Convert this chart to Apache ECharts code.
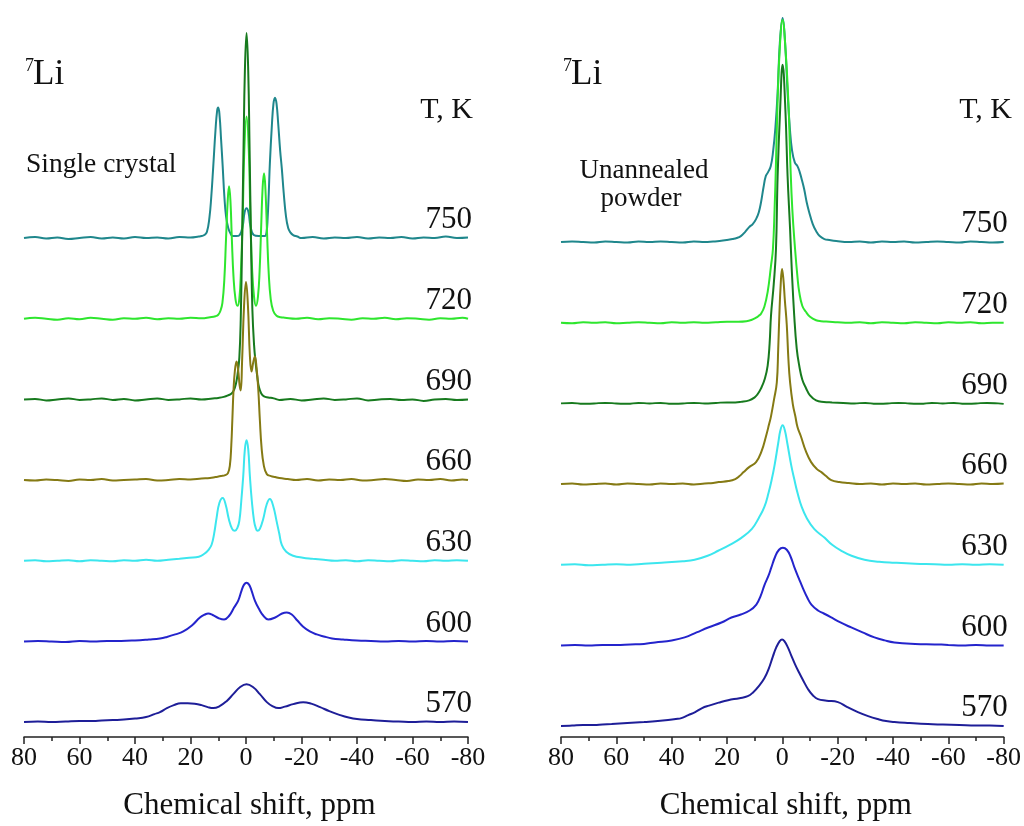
<!DOCTYPE html>
<html>
<head>
<meta charset="utf-8">
<title>7Li NMR spectra</title>
<script src="https://cdn.jsdelivr.net/npm/echarts@6/dist/echarts.min.js"></script>
<style>
  html, body { margin: 0; padding: 0; background: #fff; }
  #chart { width: 1024px; height: 826px; }
</style>
</head>
<body>
<div id="chart"></div>
<script>
// ---- data: 7Li spectra, [chemical shift (ppm), intensity above the trace baseline] ----
const temperatures = ['570', '600', '630', '660', '690', '720', '750'];
const shiftTicks = [80, 60, 40, 20, 0, -20, -40, -60, -80];

// Single crystal
const sc570 = [[80,0],[75,0.5],[70,0],[65,0.5],[60,1],[55,1],[52,1.5],[48,2],[44,2.5],[40,3.5],[36,5],[33,8],[31,10],[28.5,14],[26,17],[23.5,19],[21,19],[18.5,18.5],[16,17],[13.8,15],[11.8,14],[9.5,16],[7,21],[4.6,28],[2.2,35],[-0.2,38],[-2.6,35],[-5,28],[-7.5,20],[-9.5,16],[-11.6,14],[-14,15.5],[-17,18],[-20.6,20],[-23.5,18.5],[-26.7,15],[-30,11],[-33.9,7],[-37,4.5],[-40,3],[-45,2],[-50,1],[-55,0.5],[-60,0],[-65,0.5],[-70,0],[-75,0.5],[-80,0]];
const sc600 = [[80,0],[75,0.5],[70,0],[65,-0.5],[60,0.5],[55,0],[50,0.5],[45,0.5],[40,1],[35,2],[31,3],[28.5,4.5],[25.5,7],[22.6,10],[19.5,16],[16.6,24],[14.8,27],[13.6,28],[12,26.5],[10,23.5],[7.9,22],[6,26],[4.3,34],[2.8,41],[1.6,51],[0.7,57],[-0.2,59],[-1.1,57],[-2,51],[-3.2,41],[-4.6,33],[-6.2,26],[-8,22],[-10.5,24],[-13,28],[-14.7,29],[-16.5,27],[-18.5,21],[-20.5,15],[-23,10],[-25.5,7],[-28,5],[-31,3],[-35,2],[-40,1],[-45,0.5],[-50,0],[-55,0.5],[-60,0],[-65,0.5],[-70,0],[-75,0.5],[-80,0]];
const sc630 = [[80,0],[76,0.5],[72,-0.5],[68,0],[64,0.5],[60,-0.5],[56,0.5],[52,0],[48,-0.5],[44,0.5],[40,0],[36,1],[32,0],[28,1],[24,2],[20.5,3],[17,4],[15,7],[13.5,11],[12.4,16],[11.5,27],[10.6,43],[9.6,58],[8.4,63],[7.3,56],[6.2,42],[5,32],[4,30],[3.1,33],[2.4,40],[1.7,60],[1,85],[0.4,112],[-0.2,121],[-0.8,112],[-1.4,85],[-2.1,60],[-2.9,40],[-3.5,33],[-4.1,30],[-5,32],[-6.2,42],[-7.5,57],[-8.6,62],[-9.8,55],[-11,40],[-12,27],[-12.9,16],[-14.5,9],[-17,5],[-20.5,3],[-24,2],[-28,1],[-32,0],[-36,0.5],[-40,-0.5],[-44,0.5],[-48,0],[-52,-0.5],[-56,0.5],[-60,0],[-64,-0.5],[-68,0.5],[-72,0],[-76,0.5],[-80,0]];
const sc660 = [[80,0],[76,-0.5],[72,0.5],[68,0],[64,-1],[60,0.5],[56,0],[52,1],[48,-0.5],[44,0],[40,0.5],[36,1],[32,-0.5],[28,0],[24,1],[20,0.5],[16,1.5],[13,2],[11,3],[9,4],[7.5,5],[6.5,7],[5.8,15],[5.3,35],[4.9,62],[4.5,90],[4,110],[3.4,119],[2.8,110],[2.3,95],[1.9,90],[1.4,120],[0.7,175],[0,199],[-0.7,175],[-1.4,125],[-2,109],[-2.6,118],[-3.2,124],[-3.8,113],[-4.4,92],[-5,60],[-5.6,33],[-6.4,15],[-7.5,6],[-9,4],[-10.5,3],[-12,2],[-15,1],[-18,0],[-22,1],[-26,-0.5],[-30,0.5],[-34,0],[-38,1],[-42,-0.5],[-46,0],[-50,1],[-54,0],[-58,-1],[-62,0.5],[-66,0],[-70,1],[-74,-0.5],[-78,0.5],[-80,0]];
const sc690 = [[80,0],[76,0.5],[72,-1],[68,0],[64,1],[60,-0.5],[56,0],[52,1],[48,-0.5],[44,0.5],[40,-1],[36,0],[32,1],[28,-0.5],[24,0],[20,1],[16,0],[12,1],[10,1.5],[8,2.5],[6.5,4],[5.2,6],[4.4,9],[3.6,16],[3,26],[2.4,42],[1.9,80],[1.4,160],[0.9,250],[0.4,330],[-0.2,368],[-0.8,330],[-1.3,250],[-1.8,160],[-2.3,90],[-2.9,55],[-3.5,36],[-4.1,22],[-4.7,12],[-5.5,6],[-6.5,3],[-8,2],[-10,1],[-12,-0.5],[-16,0.5],[-20,-1],[-24,0],[-28,1],[-32,-0.5],[-36,0],[-40,1],[-44,-1],[-48,0],[-52,0.5],[-56,-0.5],[-60,0],[-64,-1.5],[-68,0],[-72,0.5],[-76,-0.5],[-80,0]];
const sc720 = [[80,0],[76,1],[72,0],[68,-1],[64,0.5],[60,-0.5],[56,1],[52,0],[48,-1],[44,0.5],[40,0],[36,1],[32,-0.5],[28,0.5],[24,0],[20,1],[16,0.5],[13,1.5],[11,2.5],[10,4],[9.2,8],[8.5,16],[7.8,40],[7.2,80],[6.6,118],[6.1,133],[5.6,118],[5.1,80],[4.5,42],[3.8,20],[3.1,13],[2.4,20],[1.8,50],[1.2,100],[0.6,170],[-0.2,203],[-1,170],[-1.6,100],[-2.2,50],[-2.9,22],[-3.6,13],[-4.3,22],[-4.9,48],[-5.5,95],[-6,132],[-6.5,146],[-7,130],[-7.6,85],[-8.2,45],[-8.9,20],[-9.8,8],[-11,3],[-12.5,1.5],[-14,1],[-18,0],[-22,1],[-26,-0.5],[-30,0.5],[-34,0],[-38,-1],[-42,0.5],[-46,0],[-50,1],[-54,-0.5],[-58,0.5],[-62,0],[-66,-1],[-70,0.5],[-74,0],[-78,1],[-80,0]];
const sc750 = [[80,0],[76,1],[72,-0.5],[68,0.5],[64,-1],[60,0],[56,1],[52,-0.5],[48,0.5],[44,-0.5],[40,1],[36,0],[32,0.5],[28,-0.5],[24,1],[20,0.5],[17,1.5],[16,2],[15,3],[14.1,6],[13.2,20],[12.5,42],[11.8,72],[11,108],[10.4,128],[10,131],[9.5,122],[9,100],[8.4,72],[7.8,42],[7.2,22],[6.4,10],[5.5,4],[4.7,2],[3.5,2],[2.3,3],[1.2,12],[0.5,26],[-0.2,30],[-0.9,26],[-1.6,12],[-2.8,3],[-4.6,2],[-5.8,2],[-6.8,2],[-7.4,6],[-7.8,20],[-8.2,45],[-8.6,75],[-9.3,112],[-9.9,135],[-10.45,141],[-11,135],[-11.6,115],[-12.3,88],[-12.9,70],[-13.6,45],[-14.4,22],[-15.2,10],[-15.9,6],[-17,3],[-18.5,1.5],[-20,0],[-24,1],[-28,-0.5],[-32,0.5],[-36,0],[-40,1],[-44,-0.5],[-48,0.5],[-52,0],[-56,1],[-60,-0.5],[-64,0.5],[-68,0],[-72,1.5],[-76,0],[-80,0.5]];

// Unannealed powder
const up570 = [[80,0],[76,0.5],[72,1],[68,1],[65,1.5],[61.7,2],[56,3],[50,4],[45,5],[41.3,6],[38.5,7],[36.5,8],[34,11],[31.5,14],[29,18],[26.5,20.5],[23,23.5],[19.6,26],[15.5,28],[12.5,30],[10.5,34],[8.5,40],[6.5,48],[5,57],[3.4,70],[2.2,79],[1,85],[0.1,87],[-0.8,85],[-2,79],[-3.2,71],[-4.6,62],[-6,54],[-7.5,46],[-9.3,37],[-11,31],[-12.9,27],[-16,25.5],[-20.1,24],[-23.5,19],[-27.3,14],[-31,10],[-34.5,7],[-37.5,5],[-40.5,4],[-46,3],[-52.6,2],[-58,1.5],[-64,1],[-70,0.5],[-75,0.5],[-80,0]];
const up600 = [[80,0],[75,0.5],[70,0],[65,0.5],[60,0.5],[55,1],[50,1.5],[46,3],[40,5],[35.3,8],[31,13],[26.8,18],[22,23],[18.4,28],[15,31],[11.8,35],[9.4,41],[7.8,50],[6.4,61],[5,70],[4,78],[2.6,89],[1.2,96],[-0.2,98],[-1.6,96],[-3,89],[-4.4,78],[-6,67],[-7.5,57],[-9,48],[-10.5,41],[-12.9,35],[-15,32],[-17.7,28],[-21,23],[-24.9,18],[-29,13],[-33.3,8],[-37,5],[-40.5,3],[-48,1.5],[-55,1],[-60,0.5],[-65,0],[-70,0.5],[-75,0],[-80,0]];
const up630 = [[80,0],[75,0.5],[70,-0.5],[65,0],[60,0.5],[55,0],[50,1],[43.7,2],[36,3.5],[31.7,5],[27,9],[23.2,14],[19,20],[14.8,27],[11,36],[8.5,47],[6.5,58],[5,72],[3.8,86],[2.8,100],[1.5,122],[0.7,135],[-0.1,140],[-0.9,135],[-1.8,122],[-3.2,100],[-4.3,86],[-5.5,72],[-7,58],[-8.8,47],[-11.5,36],[-15.3,27],[-18,20],[-21.3,14],[-25,9],[-29.7,5],[-35,3],[-40.5,2],[-48,1],[-55,0.5],[-60,0],[-65,0.5],[-70,0],[-75,0.5],[-80,0]];
const up660 = [[80,0],[76,0.5],[72,-0.5],[68,0],[64,0.5],[60,-0.5],[56,0.5],[52,0],[48,-0.5],[44,0.5],[40,0],[36,0.5],[32,-0.5],[28,0.5],[25,1],[23,2],[19.5,3],[17,5],[15.5,8],[14,12],[12,17],[9.5,22],[7.5,33],[5.9,48],[4.8,60],[4.1,68],[3,85],[2,102],[1.5,135],[1.1,168],[0.6,200],[0.1,216],[-0.4,205],[-0.9,185],[-1.6,160],[-2.2,125],[-2.8,102],[-3.8,80],[-4.7,68],[-5.5,57],[-6.7,48],[-8.5,33],[-10.4,22],[-12.5,15],[-14.1,12],[-15.8,8],[-17.7,4],[-20.6,2],[-24,1],[-28,0],[-32,0.5],[-36,-0.5],[-40,0.5],[-44,0],[-48,0.5],[-52,-0.5],[-56,0],[-60,0.5],[-64,0],[-68,-0.5],[-72,0.5],[-76,0],[-80,0.5]];
const up690 = [[80,0],[76,0.5],[72,-0.5],[68,0],[64,0.5],[60,0],[56,-0.5],[52,0.5],[48,0],[44,0.5],[40,-0.5],[36,0],[32,0.5],[28,0],[24,0.5],[20,1],[17,1],[15,1.5],[12,3],[10,6],[9,9],[7.7,15],[6.3,25],[5.3,38],[4.6,60],[4.1,88],[3.1,120],[2.3,155],[1.7,228],[0.8,295],[-0.1,340],[-1.1,295],[-1.9,228],[-2.8,175],[-3.4,135],[-4.3,88],[-5.2,55],[-6.1,38],[-7.2,24],[-8.6,15],[-10,8],[-12.2,3],[-15,1.5],[-18,1],[-22,0.5],[-26,0],[-30,0.5],[-34,-0.5],[-38,0],[-42,0.5],[-46,0],[-50,-0.5],[-54,0.5],[-58,0],[-62,0.5],[-66,-0.5],[-70,0],[-74,0.5],[-78,0],[-80,-0.5]];
const up720 = [[80,0],[76,-0.5],[72,0.5],[68,0],[64,0.5],[60,-0.5],[56,0],[52,0.5],[48,0],[44,-0.5],[40,0.5],[36,0],[32,0.5],[28,0],[24,0.5],[20,1],[16,1],[13,1.5],[11,3],[9.5,5],[8.5,7],[7.7,9],[6.5,16],[5.3,31],[4.1,57],[3.4,74],[2.8,114],[2.3,160],[1.8,214],[1,272],[-0.1,304],[-1.2,272],[-2.3,214],[-2.9,160],[-3.6,114],[-4.6,74],[-5.5,45],[-6.1,31],[-7.2,17],[-8.5,11],[-10,6],[-12.2,2.5],[-14,1.5],[-17,1],[-20,0.5],[-24,0],[-28,0.5],[-32,-0.5],[-36,0.5],[-40,0],[-44,-0.5],[-48,0.5],[-52,0],[-56,-0.5],[-60,0.5],[-64,0],[-68,0.5],[-72,-0.5],[-76,0],[-80,0]];
const up750 = [[80,0],[76,0.5],[72,0],[68,-0.5],[64,0.5],[60,0],[56,-0.5],[52,0.5],[48,0],[44,0.5],[40,0],[36,-0.5],[32,0.5],[28,0],[25,0.5],[22.7,1],[20,2],[18,3],[16.5,4],[15,6],[13.5,10],[12,15],[10.7,18],[9.5,23],[8.5,30],[7.7,40],[6.8,55],[6,66],[5.2,70],[4.2,76],[3.3,92],[2.5,115],[1.7,150],[0.9,200],[-0.1,225],[-1,200],[-1.9,150],[-2.7,115],[-3.5,92],[-4.5,80],[-5.5,76],[-6.3,70],[-7.1,62],[-7.9,53],[-8.8,40],[-9.7,30],[-11,18],[-12.2,11],[-13.5,6],[-15.2,3],[-17,2],[-19.5,1],[-24,0],[-28,0.5],[-32,-0.5],[-36,0.5],[-40,0],[-44,0.5],[-48,-0.5],[-52,0],[-56,0.5],[-60,0],[-64,-0.5],[-68,0.5],[-72,0],[-76,-0.5],[-80,0]];

// ---- presentation ----
const singleCrystal = [sc570, sc600, sc630, sc660, sc690, sc720, sc750];
const powder = [up570, up600, up630, up660, up690, up720, up750];
const traceColors = ['#1e1e98', '#2424cc', '#3ce6ee', '#857a14', '#177a1e', '#2ee62e', '#1f878c'];

const FONT = '"Liberation Serif", "Times New Roman", serif';
// vertical stacking of the traces (y axis is in plot pixels: 0..730)
const panels = [
  { grid: { left: 24, top: 10, width: 444, height: 730 }, spectra: singleCrystal, base: 15, step: 81 },
  { grid: { left: 561, top: 10, width: 443, height: 730 }, spectra: powder, base: 11, step: 81 }
];

const chart = echarts.init(document.getElementById('chart'), null, { renderer: 'canvas' });

const xAxisFor = (gridIndex) => ({
  gridIndex,
  type: 'value',
  min: -80, max: 80, interval: 20,
  inverse: true,
  name: 'Chemical shift, ppm',
  nameLocation: 'middle',
  nameGap: 53,
  nameTextStyle: { fontFamily: FONT, fontSize: 31, color: '#111', padding: [0, 0, 0, 7] },
  axisLine: { show: true, onZero: false, lineStyle: { color: '#222', width: 1.5 } },
  axisTick: { show: true, length: 7, lineStyle: { color: '#222', width: 1.5 } },
  minorTick: { show: true, splitNumber: 2, length: 4, lineStyle: { color: '#222', width: 1.5 } },
  axisLabel: {
    fontFamily: FONT, fontSize: 26, color: '#111', margin: 8,
    formatter: (v) => shiftTicks.includes(v) ? String(v) : ''
  },
  splitLine: { show: false },
  minorSplitLine: { show: false }
});

const yAxisFor = (gridIndex) => ({
  gridIndex, type: 'value', min: 0, max: 730, show: false
});

const series = [];
panels.forEach((p, g) => {
  // top trace first so the lower traces are painted over it
  for (let i = p.spectra.length - 1; i >= 0; i--) {
    const offset = p.base + p.step * i;
    series.push({
      type: 'line',
      name: temperatures[i],
      xAxisIndex: g, yAxisIndex: g,
      data: p.spectra[i].map(([x, y]) => [x, offset + y]),
      showSymbol: false,
      smooth: 0.45,
      clip: false,
      lineStyle: { color: traceColors[i], width: 2 },
      emphasis: { disabled: true },
      silent: true
    });
  }
});

chart.setOption({
  animation: false,
  backgroundColor: '#fff',
  grid: panels.map(p => Object.assign({ containLabel: false }, p.grid)),
  xAxis: [xAxisFor(0), xAxisFor(1)],
  yAxis: [yAxisFor(0), yAxisFor(1)],
  series
});

// texts: nucleus, sample, temperature column header and per-trace temperatures
const textEl = (x, y, text, size, align) => ({
  type: 'text', x, y, silent: true,
  style: {
    text, font: size + 'px ' + FONT, fill: '#111',
    textAlign: align, textVerticalAlign: 'middle'
  }
});

const graphics = [
  textEl(25, 66, '7', 18, 'left'),
  textEl(33, 75, 'Li', 35, 'left'),
  textEl(563, 66, '7', 18, 'left'),
  textEl(571, 75, 'Li', 35, 'left'),
  textEl(473, 110, 'T, K', 30, 'right'),
  textEl(1012, 110, 'T, K', 30, 'right'),
  textEl(26, 165, 'Single crystal', 27.5, 'left'),
  textEl(644, 171, 'Unannealed', 27, 'center'),
  textEl(641, 199, 'powder', 27, 'center')
];

panels.forEach((p, g) => {
  temperatures.forEach((t, i) => {
    const pt = chart.convertToPixel({ xAxisIndex: g, yAxisIndex: g }, [-80, p.base + p.step * i]);
    graphics.push(textEl(pt[0] + 4, pt[1] - 18, t, 31, 'right'));
  });
});

chart.setOption({ graphic: graphics });
</script>
</body>
</html>
